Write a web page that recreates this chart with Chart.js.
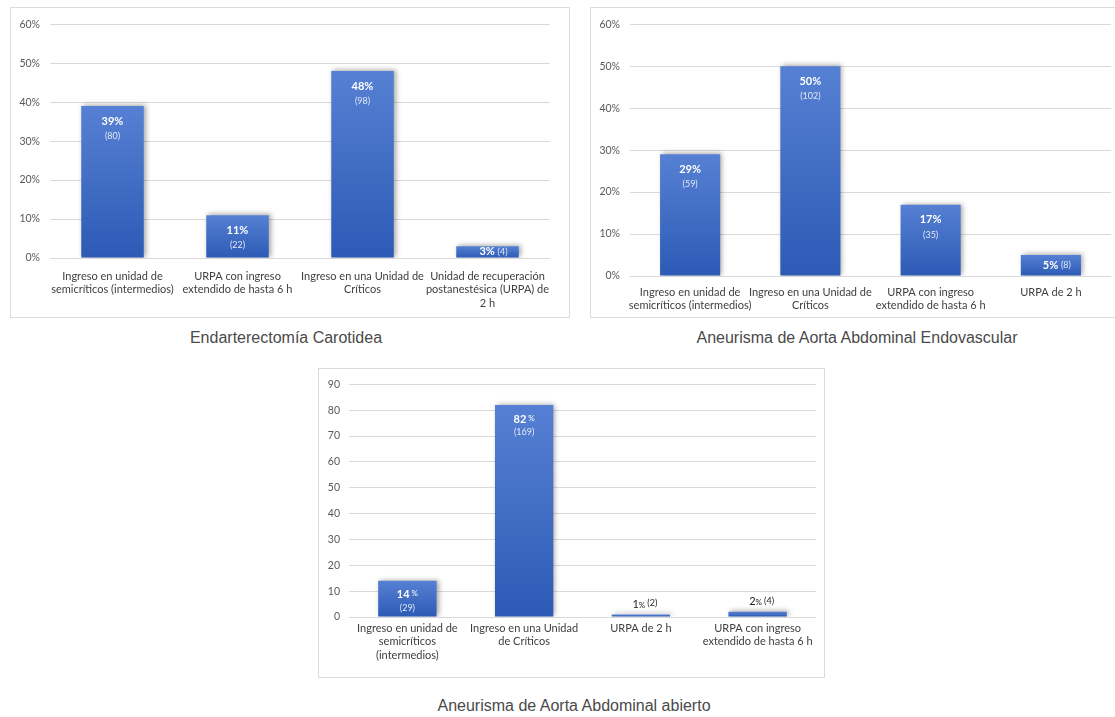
<!DOCTYPE html>
<html>
<head>
<meta charset="utf-8">
<script src="https://cdn.jsdelivr.net/npm/chart.js@4.4.1/dist/chart.umd.min.js"></script>
<style>
  html, body { margin:0; padding:0; background:#ffffff; }
  body { width:1115px; height:717px; position:relative; overflow:hidden; font-family:"Liberation Sans", Arial, sans-serif; }
  .box { position:absolute; box-sizing:border-box; border:1px solid #dcdcdc; background:#fff; }
  .box canvas { display:block; }
  .title { position:absolute; text-align:center; font-size:16px; line-height:20px; color:#4a4a4a; font-family:"Liberation Sans", Arial, sans-serif; }
</style>
</head>
<body>
<div class="box" id="b1" style="left:10px;top:7px;width:560px;height:311px;"><canvas id="c1"></canvas></div>
<div class="box" id="b2" style="left:590px;top:7px;width:525px;height:311px;border-right:none;"><canvas id="c2"></canvas></div>
<div class="box" id="b3" style="left:318px;top:368px;width:507px;height:310px;"><canvas id="c3"></canvas></div>
<div class="title" style="left:86px;top:328px;width:400px;">Endarterectomía Carotidea</div>
<div class="title" style="left:657px;top:328px;width:400px;">Aneurisma de Aorta Abdominal Endovascular</div>
<div class="title" style="left:374px;top:696px;width:400px;">Aneurisma de Aorta Abdominal abierto</div>
<script>
// ---------- Data ----------
const titles = ["Endarterectomía Carotidea", "Aneurisma de Aorta Abdominal Endovascular", "Aneurisma de Aorta Abdominal abierto"];

const categories1 = [
  ["Ingreso en unidad de", "semicríticos (intermedios)"],
  ["URPA con ingreso", "extendido de hasta 6 h"],
  ["Ingreso en una Unidad de", "Críticos"],
  ["Unidad de recuperación", "postanestésica (URPA) de", "2 h"]
];
const values1 = [39, 11, 48, 3];
const counts1 = [80, 22, 98, 4];
const yTicks1 = [0, 10, 20, 30, 40, 50, 60];

const categories2 = [
  ["Ingreso en unidad de", "semicríticos (intermedios)"],
  ["Ingreso en una Unidad de", "Críticos"],
  ["URPA con ingreso", "extendido de hasta 6 h"],
  ["URPA de 2 h"]
];
const values2 = [29, 50, 17, 5];
const counts2 = [59, 102, 35, 8];
const yTicks2 = [0, 10, 20, 30, 40, 50, 60];

const categories3 = [
  ["Ingreso en unidad de", "semicríticos", "(intermedios)"],
  ["Ingreso en una Unidad", "de Críticos"],
  ["URPA de 2 h"],
  ["URPA con ingreso", "extendido de hasta 6 h"]
];
const values3 = [14, 82, 1, 2];
const counts3 = [29, 169, 2, 4];
const yTicks3 = [0, 10, 20, 30, 40, 50, 60, 70, 80, 90];

// ---------- Helpers ----------
const FONT = "Lato, 'Liberation Sans', Arial, sans-serif";

function barFill(c) {
  const chart = c.chart;
  const ys = chart.scales && chart.scales.y;
  if (!ys || !chart.chartArea || c.type !== 'data') return '#3a66c4';
  const top = ys.getPixelForValue(c.raw);
  const base = ys.getPixelForValue(0);
  if (!isFinite(top) || !isFinite(base) || Math.abs(base - top) < 1) return '#3a66c4';
  const g = chart.ctx.createLinearGradient(0, top, 0, base);
  g.addColorStop(0, '#5680d3');
  g.addColorStop(1, '#2c5ab5');
  return g;
}

const barLabels = {
  id: 'barLabels',
  beforeDatasetsDraw(chart) {
    const ctx = chart.ctx;
    ctx.save();
    ctx.shadowColor = 'rgba(0,0,0,0.35)';
    ctx.shadowBlur = 5;
    ctx.shadowOffsetX = 2;
    ctx.shadowOffsetY = -1;
  },
  afterDatasetsDraw(chart) {
    const ctx = chart.ctx;
    ctx.restore();
    const o = chart.options.plugins.barLabels;
    const meta = chart.getDatasetMeta(0);
    const vals = chart.data.datasets[0].data;
    meta.data.forEach((bar, i) => {
      const mode = o.modes[i];
      const num = String(vals[i]);
      const suf = o.suffix;
      const cnt = '(' + o.counts[i] + ')';
      ctx.save();
      ctx.textBaseline = 'middle';
      if (mode === 'in2') {
        ctx.textAlign = 'center';
        ctx.fillStyle = '#ffffff';
        ctx.font = 'bold 11px ' + FONT;
        if (suf === '%') {
          ctx.fillText(num + '%', bar.x, bar.y + o.dy1);
        } else {
          ctx.font = 'bold 11px ' + FONT;
          const w1 = ctx.measureText(num).width;
          ctx.font = '8px ' + FONT;
          const w2 = ctx.measureText(suf).width;
          const x0 = bar.x - (w1 + w2) / 2;
          ctx.textAlign = 'left';
          ctx.font = 'bold 11px ' + FONT;
          ctx.fillText(num, x0, bar.y + o.dy1);
          ctx.font = '8px ' + FONT;
          ctx.fillText(suf, x0 + w1, bar.y + o.dy1 - 1);
        }
        ctx.textAlign = 'center';
        ctx.font = '9px ' + FONT;
        ctx.fillStyle = '#e2e8f6';
        ctx.fillText(cnt, bar.x, bar.y + o.dy2);
      } else if (mode === 'in1') {
        const cy = (bar.y + bar.base) / 2;
        ctx.font = 'bold 11px ' + FONT;
        const w1 = ctx.measureText(num + '% ').width;
        ctx.font = '9px ' + FONT;
        const w2 = ctx.measureText(cnt).width;
        const x0 = bar.x + 6 - (w1 + w2) / 2;
        ctx.textAlign = 'left';
        ctx.fillStyle = '#ffffff';
        ctx.font = 'bold 11px ' + FONT;
        ctx.fillText(num + '% ', x0, cy);
        ctx.fillStyle = '#e2e8f6';
        ctx.font = '9px ' + FONT;
        ctx.fillText(cnt, x0 + w1, cy);
      } else if (mode === 'above') {
        const cy = bar.y - 10;
        ctx.font = '11px ' + FONT;
        const w1 = ctx.measureText(num).width;
        ctx.font = '8px ' + FONT;
        const w2 = ctx.measureText('% ').width;
        ctx.font = '9px ' + FONT;
        const w3 = ctx.measureText(cnt).width;
        let x = bar.x + 4 - (w1 + w2 + w3) / 2;
        ctx.textAlign = 'left';
        ctx.fillStyle = '#222222';
        ctx.font = '11px ' + FONT;
        ctx.fillText(num, x, cy); x += w1;
        ctx.font = '8px ' + FONT;
        ctx.fillText('% ', x, cy + 1); x += w2;
        ctx.font = '9px ' + FONT;
        ctx.fillText(cnt, x, cy - 1);
      }
      ctx.restore();
    });
  }
};

function makeChart(id, cats, vals, counts, ticks, opt) {
  const maxV = ticks[ticks.length - 1];
  return new Chart(document.getElementById(id), {
    type: 'bar',
    data: {
      labels: cats,
      datasets: [{
        data: vals,
        backgroundColor: barFill,
        borderWidth: 0,
        barPercentage: 0.5,
        categoryPercentage: 1.0
      }]
    },
    options: {
      responsive: true,
      maintainAspectRatio: false,
      animation: false,
      events: [],
      layout: { padding: { left: 0, right: opt.padRight, top: opt.padTop, bottom: 0 } },
      plugins: {
        legend: { display: false },
        tooltip: { enabled: false },
        title: { display: false },
        barLabels: { modes: opt.modes, counts: counts, suffix: opt.suffix, dy1: opt.dy1, dy2: opt.dy2 }
      },
      scales: {
        x: {
          grid: { display: false, drawTicks: false },
          border: { display: false },
          ticks: { color: '#404040', font: { family: FONT, size: 11 }, padding: opt.xPad, maxRotation: 0, autoSkip: false },
          afterFit(s) { s.height = opt.xHeight; }
        },
        y: {
          min: 0,
          max: maxV,
          afterBuildTicks(s) { s.ticks = ticks.map(v => ({ value: v })); },
          grid: { color: '#d9d9d9', lineWidth: 1, drawTicks: false },
          border: { display: false },
          ticks: {
            color: '#595959',
            font: { family: FONT, size: 10.5 },
            padding: opt.yPad,
            callback: (v) => v + opt.yFmt
          },
          afterFit(s) { s.width = opt.yWidth; }
        }
      }
    },
    plugins: [barLabels]
  });
}

makeChart('c1', categories1, values1, counts1, yTicks1, {
  padRight: 19, padTop: 15, xHeight: 59, yWidth: 39, xPad: 12, yPad: 10, yFmt: '%',
  modes: ['in2', 'in2', 'in2', 'in1'], suffix: '%', dy1: 15, dy2: 30
});
makeChart('c2', categories2, values2, counts2, yTicks2, {
  padRight: 4, padTop: 15, xHeight: 41, yWidth: 39, xPad: 10, yPad: 10, yFmt: '%',
  modes: ['in2', 'in2', 'in2', 'in1'], suffix: '%', dy1: 15, dy2: 30
});
makeChart('c3', categories3, values3, counts3, yTicks3, {
  padRight: 8, padTop: 14, xHeight: 60, yWidth: 30, xPad: 5, yPad: 9, yFmt: '',
  modes: ['in2', 'in2', 'above', 'above'], suffix: ' %', dy1: 14, dy2: 27
});
</script>
</body>
</html>
